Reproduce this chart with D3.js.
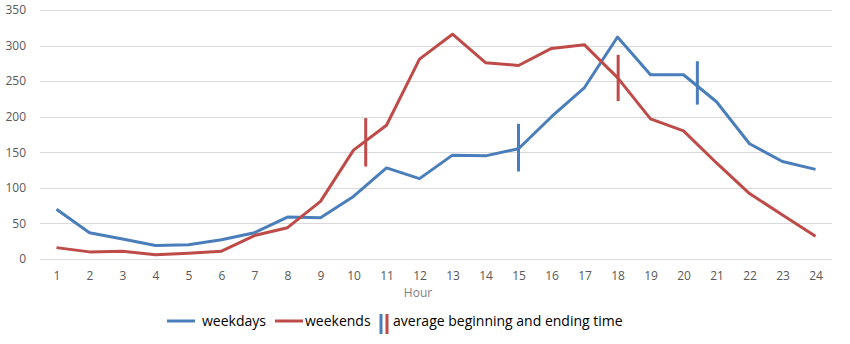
<!DOCTYPE html>
<html><head><meta charset="utf-8">
<script src="https://cdn.jsdelivr.net/npm/d3@7/dist/d3.min.js"></script>
<style>body{margin:0;background:#fff}svg{display:block}</style>
</head><body><svg id="c" width="850" height="344"></svg>
<script>
const hours = d3.range(1, 25);
const weekdays = [70,37,28,19,20,27,37,59,58,88,128,113,146,145,155,200,241,312,259,259,221,162,137,126];
const weekends = [16,10,11,6,8,11,33,44,81,153,188,281,316,276,272,296,301,255,197,180,135,92,62,32];
const yTicks = [0,50,100,150,200,250,300,350];
// average beginning / ending time markers
const markerSeries = ["weekends","weekdays","weekends","weekdays"];
const markerHour = [10.37, 15.0, 18.02, 20.42];
const markerLow = [130, 123, 222, 217];
const markerHigh = [198, 190, 287, 278];

const colors = {weekdays:"#4a7ebb", weekends:"#be4b48"};
const svg = d3.select("#c");
const L = 40, R = 832, T = 10, B = 259;
const x = d3.scaleLinear().domain([0.5, 24.5]).range([L, R]);
const y = d3.scaleLinear().domain([0, 350]).range([B, T]);
const font = "'Open Sans', sans-serif";

// gridlines
svg.append("g").selectAll("line").data(yTicks).join("line")
  .attr("x1", L).attr("x2", R)
  .attr("y1", d => Math.round(y(d)) + 0.5).attr("y2", d => Math.round(y(d)) + 0.5)
  .attr("stroke", "#d9d9d9").attr("stroke-width", 1);

// y axis labels
const yAxis = svg.append("g").attr("transform", `translate(${L},0)`)
  .call(d3.axisLeft(y).tickValues(yTicks).tickSize(0).tickPadding(14));
yAxis.select(".domain").remove();
yAxis.selectAll("text").attr("font-family", font).attr("font-size", 12).attr("fill", "#595959");

// x axis labels
const xAxis = svg.append("g").attr("transform", `translate(0,${B})`)
  .call(d3.axisBottom(x).tickValues(hours).tickFormat(d3.format("d")).tickSize(0).tickPadding(12));
xAxis.select(".domain").remove();
xAxis.selectAll("text").attr("font-family", font).attr("font-size", 12).attr("fill", "#595959");

svg.append("text").attr("x", 418).attr("y", 297).attr("text-anchor", "middle")
  .attr("font-family", font).attr("font-size", 12).attr("fill", "#7f7f7f").text("Hour");

// lines
const line = d3.line().x((d, i) => x(hours[i])).y(d => y(d));
[["weekdays", weekdays], ["weekends", weekends]].forEach(([k, vals]) => {
  svg.append("path").datum(vals).attr("d", line).attr("fill", "none")
    .attr("stroke", colors[k]).attr("stroke-width", 3).attr("stroke-linejoin", "round");
});

// markers
svg.append("g").selectAll("line").data(markerHour).join("line")
  .attr("x1", d => x(d)).attr("x2", d => x(d))
  .attr("y1", (d, i) => y(markerHigh[i])).attr("y2", (d, i) => y(markerLow[i]))
  .attr("stroke", (d, i) => colors[markerSeries[i]]).attr("stroke-width", 3);

// legend
const lg = svg.append("g").attr("font-family", font).attr("font-size", 14).attr("fill", "#000");
const ly = 321;
lg.append("line").attr("x1", 167).attr("x2", 195).attr("y1", ly).attr("y2", ly).attr("stroke", colors.weekdays).attr("stroke-width", 3);
lg.append("text").attr("x", 202).attr("y", ly + 5).text("weekdays");
lg.append("line").attr("x1", 275).attr("x2", 303).attr("y1", ly).attr("y2", ly).attr("stroke", colors.weekends).attr("stroke-width", 3);
lg.append("text").attr("x", 305).attr("y", ly + 5).text("weekends");
lg.append("line").attr("x1", 381).attr("x2", 381).attr("y1", 314).attr("y2", 334).attr("stroke", colors.weekdays).attr("stroke-width", 3);
lg.append("line").attr("x1", 387).attr("x2", 387).attr("y1", 314).attr("y2", 334).attr("stroke", colors.weekends).attr("stroke-width", 3);
lg.append("text").attr("x", 393).attr("y", ly + 5).text("average beginning and ending time");
</script></body></html>
